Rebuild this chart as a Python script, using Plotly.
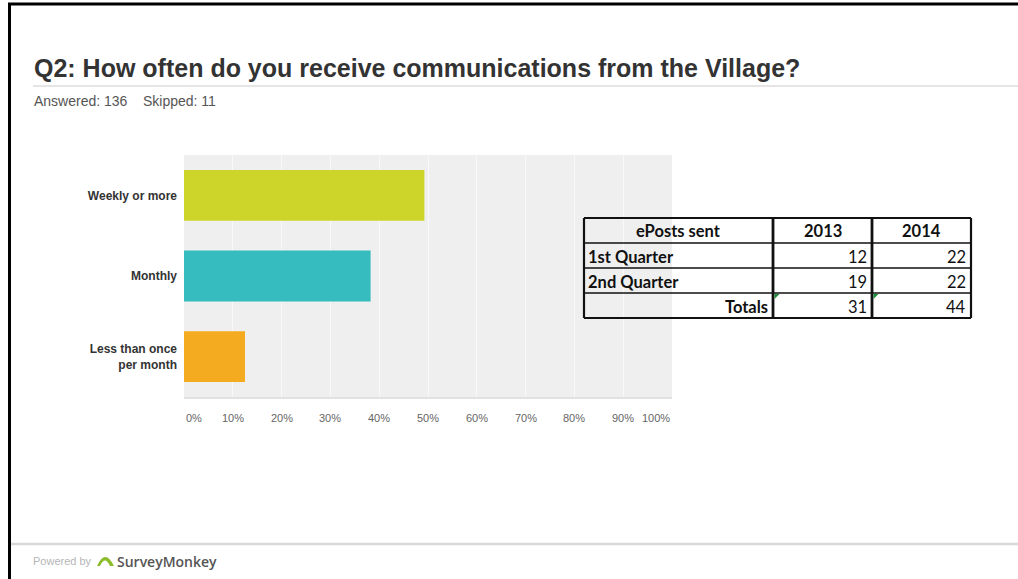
import plotly.graph_objects as go

# Survey answers (percent of 136 respondents)
categories = ["Weekly or more", "Monthly", "Less than once<br>per month"]
percents = [49.26, 38.24, 12.50]
bar_colors = ["#cdd42a", "#36bcbf", "#f5ab1f"]
x_ticks = [0, 10, 20, 30, 40, 50, 60, 70, 80, 90, 100]
x_tick_labels = ["0%", "10%", "20%", "30%", "40%", "50%", "60%", "70%", "80%", "90%", "100%"]

# ePosts table
table_header = ["ePosts sent", "2013", "2014"]
table_rows = ["1st Quarter", "2nd Quarter", "Totals"]
posts_2013 = [12, 19, 31]
posts_2014 = [22, 22, 44]

W, H = 1018, 579


def px(x):
    return x / W


def py(y):
    return 1 - y / H


fig = go.Figure()
fig.add_trace(go.Bar(
    y=categories, x=percents, orientation="h",
    marker=dict(color=bar_colors, line=dict(width=0)),
    width=0.63, hoverinfo="x+y",
))

shapes = []
annotations = []

# plot background panel
shapes.append(dict(type="rect", xref="paper", yref="paper", layer="below",
                   x0=px(184), x1=px(672), y0=py(397), y1=py(155),
                   fillcolor="#efefef", line=dict(width=0)))
shapes.append(dict(type="line", xref="paper", yref="paper",
                   x0=px(184), x1=px(672), y0=py(398), y1=py(398),
                   line=dict(color="#e2e2e2", width=2)))

# x tick labels
for v, lab in zip(x_ticks, x_tick_labels):
    anchor = "left" if v == 0 else ("right" if v == 100 else "center")
    annotations.append(dict(x=v, y=py(418), xref="x", yref="paper", text=lab,
                            showarrow=False, xanchor=anchor, yanchor="middle",
                            font=dict(family="Liberation Sans", size=11, color="#666")))

# frame
shapes.append(dict(type="line", xref="paper", yref="paper",
                   x0=px(9.5), x1=px(9.5), y0=py(3), y1=0,
                   line=dict(color="#000", width=3)))
shapes.append(dict(type="line", xref="paper", yref="paper",
                   x0=px(8), x1=1, y0=py(4), y1=py(4),
                   line=dict(color="#000", width=3)))

# title rule and footer rule
shapes.append(dict(type="line", xref="paper", yref="paper",
                   x0=px(33), x1=1, y0=py(86), y1=py(86),
                   line=dict(color="#dcdcdc", width=1.5)))
shapes.append(dict(type="line", xref="paper", yref="paper",
                   x0=px(11), x1=1, y0=py(544), y1=py(544),
                   line=dict(color="#d8d8d8", width=2.5)))

annotations.append(dict(x=px(32), y=py(68), xref="paper", yref="paper",
                        text="<b>Q2: How often do you receive communications from the Village?</b>",
                        showarrow=False, xanchor="left", yanchor="middle",
                        font=dict(family="Liberation Sans", size=25, color="#333")))
annotations.append(dict(x=px(32), y=py(101), xref="paper", yref="paper",
                        text="Answered: 136&nbsp;&nbsp;&nbsp;&nbsp;Skipped: 11",
                        showarrow=False, xanchor="left", yanchor="middle",
                        font=dict(family="Liberation Sans", size=14, color="#555")))

# footer
annotations.append(dict(x=px(31), y=py(561), xref="paper", yref="paper",
                        text="Powered by", showarrow=False, xanchor="left", yanchor="middle",
                        font=dict(family="Liberation Sans", size=11, color="#b5b5b5")))
shapes.append(dict(type="path", xref="paper", yref="paper",
                   path=(f"M {px(97)} {py(566)} Q {px(105)} {py(548)} {px(114)} {py(566)} "
                         f"L {px(110)} {py(566)} Q {px(105)} {py(555)} {px(100)} {py(566)} Z"),
                   fillcolor="#8cbc2a", line=dict(width=0)))
annotations.append(dict(x=px(115), y=py(561), xref="paper", yref="paper",
                        text="SurveyMonkey", showarrow=False, xanchor="left", yanchor="middle",
                        font=dict(family="Open Sans", size=14, color="#555", weight=600)))

# table grid
col_x = [584, 773, 872, 971]
row_y = [218, 243, 268, 293, 318]
for y in row_y:
    w = 2.2 if y in (218, 318) else 1.5
    shapes.append(dict(type="line", xref="paper", yref="paper",
                       x0=px(col_x[0]), x1=px(col_x[-1]), y0=py(y), y1=py(y),
                       line=dict(color="#111", width=w)))
for x in col_x:
    w = 2.2 if x in (584, 971) else 2.8
    shapes.append(dict(type="line", xref="paper", yref="paper",
                       x0=px(x), x1=px(x), y0=py(row_y[0]), y1=py(row_y[-1]),
                       line=dict(color="#111", width=w)))

tfont = dict(family="Lato", size=16.5, color="#111")


def cell(text, x, y, anchor):
    annotations.append(dict(x=px(x), y=py(y), xref="paper", yref="paper", text=text,
                            showarrow=False, xanchor=anchor, yanchor="middle", font=tfont))


cell(f"<b>{table_header[0]}</b>", (col_x[0] + col_x[1]) / 2, 231, "center")
cell(f"<b>{table_header[1]}</b>", (col_x[1] + col_x[2]) / 2, 231, "center")
cell(f"<b>{table_header[2]}</b>", (col_x[2] + col_x[3]) / 2, 231, "center")
for i, name in enumerate(table_rows):
    yc = (row_y[i + 1] + row_y[i + 2]) / 2 + 1
    if name == "Totals":
        cell(f"<b>{name}</b>", col_x[1] - 3, yc, "right")
    else:
        cell(f"<b>{name}</b>", col_x[0] + 2, yc, "left")
    cell(str(posts_2013[i]), col_x[2] - 3, yc, "right")
    cell(str(posts_2014[i]), col_x[3] - 3, yc, "right")

# small green corner markers on the totals cells
for x in (col_x[1], col_x[2]):
    shapes.append(dict(type="path", xref="paper", yref="paper",
                       path=(f"M {px(x + 1.5)} {py(294)} L {px(x + 6.5)} {py(294)} "
                             f"L {px(x + 1.5)} {py(299)} Z"),
                       fillcolor="#1f8a3c", line=dict(width=0)))

fig.update_layout(
    width=W, height=H,
    margin=dict(l=0, r=0, t=0, b=0),
    paper_bgcolor="#fff", plot_bgcolor="#efefef",
    showlegend=False,
    bargap=0.37,
    xaxis=dict(domain=[px(184), px(672)], range=[0, 100], tickvals=x_ticks,
               showticklabels=False, showgrid=True, gridcolor="#f9f9f9", gridwidth=1,
               zeroline=False, showline=False, fixedrange=True),
    yaxis=dict(domain=[py(397), py(155)], autorange="reversed", type="category",
               showgrid=False, zeroline=False, showline=False, ticks="",
               ticklabelstandoff=6, fixedrange=True,
               tickfont=dict(family="Liberation Sans", size=12, color="#333", weight="bold")),
    shapes=shapes,
    annotations=annotations,
)

fig.write_html("out.html")
